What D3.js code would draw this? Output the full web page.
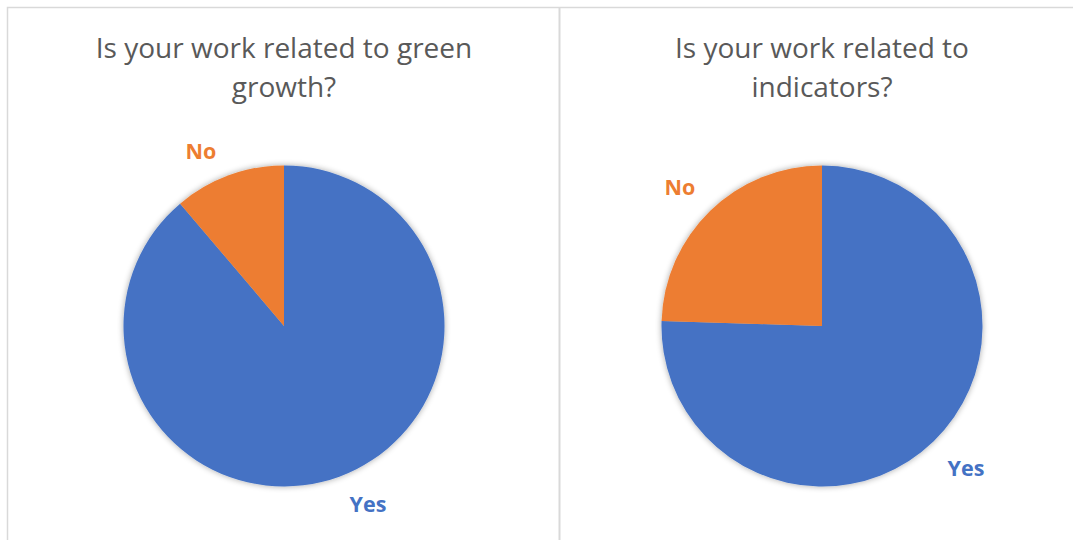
<!DOCTYPE html>
<html><head><meta charset="utf-8">
<script src="https://cdn.jsdelivr.net/npm/d3@7"></script>
<style>body{margin:0;background:#fff}svg{display:block}</style>
</head><body>
<svg id="c" width="1073" height="540"></svg>
<script>
const categories = ["Yes", "No"];
const titles = [["Is your work related to green", "growth?"], ["Is your work related to", "indicators?"]];
const greenGrowth = [88.8, 11.2];
const indicators = [75.5, 24.5];
const colors = ["#4472C4", "#ED7D31"];

const svg = d3.select("#c");
const defs = svg.append("defs");
const f = defs.append("filter").attr("id","sh").attr("x","-20%").attr("y","-20%").attr("width","140%").attr("height","140%");
f.append("feGaussianBlur").attr("in","SourceAlpha").attr("stdDeviation",3);
f.append("feOffset").attr("dx",0).attr("dy",0).attr("result","b");
f.append("feComponentTransfer").append("feFuncA").attr("type","linear").attr("slope",0.35);
const m = f.append("feMerge"); m.append("feMergeNode"); m.append("feMergeNode").attr("in","SourceGraphic");

svg.append("rect").attr("x",0).attr("y",0).attr("width",1073).attr("height",540).attr("fill","#fff");
svg.append("path").attr("d","M7.5,545 V7.5 H1080").attr("fill","none").attr("stroke","#d9d9d9").attr("stroke-width",1.5);
svg.append("line").attr("x1",559.5).attr("x2",559.5).attr("y1",7.5).attr("y2",545).attr("stroke","#d9d9d9").attr("stroke-width",2);

const panels = [
  {cx:284, data:greenGrowth, title:titles[0], labels:[[368,504],[201,151]]},
  {cx:822, data:indicators, title:titles[1], labels:[[966,468],[680,187]]}
];
const arc = d3.arc().innerRadius(0).outerRadius(160.5);

panels.forEach(p => {
  const g = svg.append("g").attr("transform",`translate(${p.cx},326)`);
  const pd = d3.pie().sort(null).value(d=>d.v)(p.data.map((v,i)=>({v,i})));
  const gg = g.append("g").attr("filter","url(#sh)");
  gg.selectAll("path").data(pd).join("path").attr("d",arc).attr("fill",d=>colors[d.data.i]);
  const t = svg.append("text").attr("x",p.cx).attr("text-anchor","middle")
    .attr("font-family","Open Sans, sans-serif").attr("font-size",28).attr("fill","#595959");
  t.append("tspan").attr("x",p.cx).attr("y",58).text(p.title[0]);
  t.append("tspan").attr("x",p.cx).attr("y",97).text(p.title[1]);
  categories.forEach((c,i)=>{
    svg.append("text").attr("x",p.labels[i][0]).attr("y",p.labels[i][1]+7.5).attr("text-anchor","middle")
      .attr("font-family","Open Sans, sans-serif").attr("font-weight","bold").attr("font-size",21.5)
      .attr("fill",colors[i]).text(c);
  });
});
</script>
</body></html>
